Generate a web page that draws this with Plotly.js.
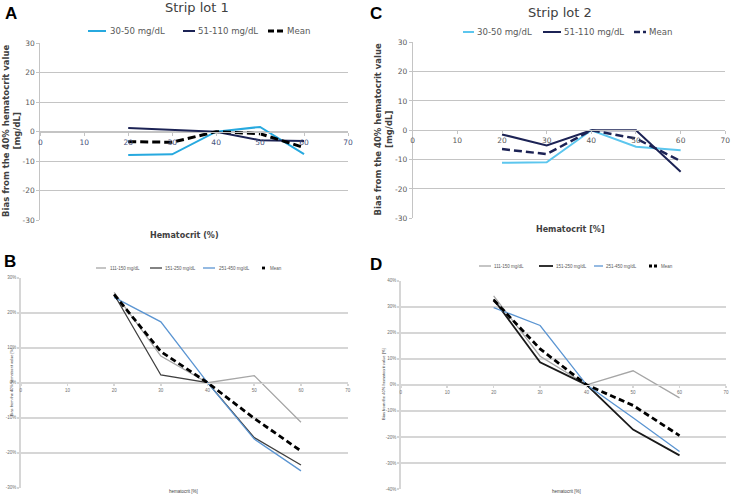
<!DOCTYPE html>
<html>
<head>
<meta charset="utf-8">
<script src="https://cdn.plot.ly/plotly-3.0.1.min.js"></script>
<style>html,body{margin:0;padding:0;background:#fff}#chart{width:732px;height:497px}</style>
</head>
<body>
<div id="chart"></div>
<script>
// ---------------- DATA ----------------
const hematocrit = [20, 30, 40, 50, 60];
const xTickVals = [0, 10, 20, 30, 40, 50, 60, 70];

// Panel A – Strip lot 1 (mg/dL)
const seriesNamesAC = ["30-50 mg/dL", "51-110 mg/dL", "Mean"];
const lot1_30_50  = [-7.9, -7.7, 0, 1.6, -7.6];
const lot1_51_110 = [1.2, 0.7, 0, -2.9, -3.2];
const lot1_mean   = [-3.4, -3.6, 0, -0.7, -5.4];

// Panel C – Strip lot 2 (mg/dL)
const lot2_30_50  = [-11.1, -10.9, 0, -5.6, -6.8];
const lot2_51_110 = [-1.4, -5.2, 0, 0, -14.1];
const lot2_mean   = [-6.4, -8.1, 0, -2.8, -10.5];

// Panel B – Strip lot 1 (%)
const seriesNamesBD = ["111-150 mg/dL", "151-250 mg/dL", "251-450 mg/dL", "Mean"];
const lot1_111_150 = [25.8, 7.6, 0, 2.0, -11.3];
const lot1_151_250 = [25.2, 2.2, 0, -15.7, -23.5];
const lot1_251_450 = [24.4, 17.4, 0, -16.1, -25.2];
const lot1_pct_mean = [25.2, 8.9, 0, -10.2, -19.5];

// Panel D – Strip lot 2 (%)
const lot2_111_150 = [34.2, 11.0, 0, 5.4, -5.0];
const lot2_151_250 = [32.9, 8.7, 0, -17.2, -27.1];
const lot2_251_450 = [29.7, 22.8, 0, -12.6, -25.6];
const lot2_pct_mean = [32.6, 13.8, 0, -7.9, -19.5];

// ---------------- STYLE / LAYOUT ----------------
const W = 732, H = 497;
const px = x => x / W;
const py = y => 1 - y / H;

const panels = [
  { id: "", letter: "A", dom: {x0: 40.3, x1: 348, y0: 43.3, y1: 220}, yr: [-30, 30], suffix: "",
    series: [lot1_30_50, lot1_51_110, lot1_mean], names: seriesNamesAC,
    colors: ["#27a9df", "#1c2355", "#000000"], widths: [2, 2, 3], dashes: ["solid", "solid", "8px,4px"],
    legDash: "6px,3px",
    font: "DejaVu Sans", tickSize: 7.5, tickColor: "#595959", xTickColor: "#45507a",
    gridColor: "#c4c4c4", gridWidth: 1, axisWidth: 1, tickLen: 3,
    title: {text: "Strip lot 1", x: 197, y: 7.5, size: 13},
    letterPos: {x: 3, y: 14},
    ytitle: {text: "<b>Bias from the 40% hematocrit value<br>[mg/dL]</b>", x: 11, y: 131, size: 8.5},
    xtitle: {text: "<b>Hematocrit (%)</b>", x: 184, y: 235, size: 8},
    legend: {y: 31, size: 8.6, items: [[88, 106, 108], [183, 195, 196], [268, 283, 285]]}
  },
  { id: "2", letter: "C", dom: {x0: 412.7, x1: 725.3, y0: 42.3, y1: 218.3}, yr: [-30, 30], suffix: "",
    series: [lot2_30_50, lot2_51_110, lot2_mean], names: seriesNamesAC,
    colors: ["#5cc6ee", "#1c2355", "#1c2355"], widths: [2, 2, 2.5], dashes: ["solid", "solid", "8px,4px"],
    legDash: "6px,3px",
    font: "DejaVu Sans", tickSize: 7.5, tickColor: "#595959", xTickColor: "#595959",
    gridColor: "#c4c4c4", gridWidth: 1, axisWidth: 1, tickLen: 3,
    title: {text: "Strip lot 2", x: 560, y: 13, size: 13},
    letterPos: {x: 368, y: 14},
    ytitle: {text: "<b>Bias from the 40% hematocrit value<br>[mg/dL]</b>", x: 382.5, y: 129, size: 8.5},
    xtitle: {text: "<b>Hematocrit [%]</b>", x: 570, y: 230, size: 8},
    legend: {y: 32, size: 8.6, items: [[463, 474, 475], [543, 561, 562], [634, 646, 647]]}
  },
  { id: "3", letter: "B", dom: {x0: 20.7, x1: 347.7, y0: 277.7, y1: 487.7}, yr: [-30, 30], suffix: "%",
    series: [lot1_111_150, lot1_151_250, lot1_251_450, lot1_pct_mean], names: seriesNamesBD,
    colors: ["#a6a6a6", "#404040", "#5b95d2", "#000000"], widths: [1.3, 1.3, 1.3, 2.8],
    dashes: ["solid", "solid", "solid", "6px,3.5px"], legDash: "3px,2px",
    font: "Liberation Sans", tickSize: 4.5, tickColor: "#6f6f6f", xTickColor: "#6f6f6f",
    gridColor: "#d6d6d6", gridWidth: 1.6, axisWidth: 1.6, tickLen: 2,
    title: null,
    letterPos: {x: 2, y: 261},
    ytitle: {text: "Bias from the 40% hematocrit value [%]", x: 11, y: 382, size: 3.9},
    xtitle: {text: "hematocrit [%]", x: 183, y: 491, size: 4.5},
    legend: {y: 268, size: 4.5, items: [[96, 106, 108], [150, 162, 163], [203, 215, 217], [262, 267, 268]]}
  },
  { id: "4", letter: "D", dom: {x0: 400.7, x1: 726, y0: 280.7, y1: 489}, yr: [-40, 40], suffix: "%",
    series: [lot2_111_150, lot2_151_250, lot2_251_450, lot2_pct_mean], names: seriesNamesBD,
    colors: ["#a6a6a6", "#1a1a1a", "#5b95d2", "#000000"], widths: [1.3, 1.8, 1.3, 2.8],
    dashes: ["solid", "solid", "solid", "6px,3.5px"], legDash: "3px,2px",
    font: "Liberation Sans", tickSize: 4.5, tickColor: "#6f6f6f", xTickColor: "#6f6f6f",
    gridColor: "#d6d6d6", gridWidth: 1.6, axisWidth: 1.6, tickLen: 2,
    title: null,
    letterPos: {x: 368, y: 264},
    ytitle: {text: "Bias from the 40% hematocrit value [%]", x: 383, y: 384, size: 4.1},
    xtitle: {text: "hematocrit [%]", x: 566, y: 491, size: 4.5},
    legend: {y: 266, size: 4.5, items: [[479, 491, 492], [539, 553, 554], [594, 603, 604], [649, 658, 659]]}
  }
];

const traces = [];
const layout = {
  width: W, height: H,
  margin: {l: 0, r: 0, t: 0, b: 0},
  paper_bgcolor: "#ffffff", plot_bgcolor: "#ffffff",
  showlegend: false,
  annotations: [], shapes: []
};

panels.forEach(p => {
  const xa = "xaxis" + p.id, ya = "yaxis" + p.id;
  const xd = [px(p.dom.x0), px(p.dom.x1)];
  const yd = [py(p.dom.y1), py(p.dom.y0)];
  const zeroPos = yd[0] + (yd[1] - yd[0]) * (0 - p.yr[0]) / (p.yr[1] - p.yr[0]);

  p.series.forEach((s, i) => {
    traces.push({
      type: "scatter", mode: "lines",
      x: hematocrit, y: s, name: p.names[i],
      xaxis: "x" + p.id, yaxis: "y" + p.id,
      line: {color: p.colors[i], width: p.widths[i], dash: p.dashes[i]},
      hoverinfo: "x+y+name"
    });
  });

  layout[xa] = {
    domain: xd, range: [0, 70], tickvals: xTickVals, ticktext: xTickVals.map(String),
    anchor: "free", position: zeroPos, showgrid: false, zeroline: false,
    showline: true, linecolor: p.gridColor, linewidth: p.axisWidth,
    ticks: "outside", ticklen: p.tickLen, tickcolor: p.gridColor, tickwidth: p.axisWidth,
    tickfont: {family: p.font, size: p.tickSize, color: p.xTickColor}, automargin: false,
    fixedrange: true
  };
  const yTicks = [];
  for (let v = p.yr[0]; v <= p.yr[1]; v += 10) yTicks.push(v);
  layout[ya] = {
    domain: yd, range: p.yr, tickvals: yTicks, ticktext: yTicks.map(v => v + p.suffix),
    anchor: "x" + p.id, showgrid: true, gridcolor: p.gridColor, gridwidth: p.gridWidth,
    zeroline: false, showline: true, linecolor: p.gridColor, linewidth: p.axisWidth,
    ticks: "outside", ticklen: p.tickLen, tickcolor: p.gridColor, tickwidth: p.axisWidth,
    tickfont: {family: p.font, size: p.tickSize, color: p.tickColor}, automargin: false,
    fixedrange: true
  };

  // panel letter
  layout.annotations.push({
    text: "<b>" + p.letter + "</b>", xref: "paper", yref: "paper",
    x: px(p.letterPos.x), y: py(p.letterPos.y), xanchor: "left", yanchor: "middle",
    showarrow: false, font: {family: "Liberation Sans", size: 17, color: "#000000"}
  });
  if (p.title) {
    layout.annotations.push({
      text: p.title.text, xref: "paper", yref: "paper",
      x: px(p.title.x), y: py(p.title.y), xanchor: "center", yanchor: "middle",
      showarrow: false, font: {family: p.font, size: p.title.size, color: "#404040"}
    });
  }
  layout.annotations.push({
    text: p.ytitle.text, xref: "paper", yref: "paper", textangle: -90,
    x: px(p.ytitle.x), y: py(p.ytitle.y), xanchor: "center", yanchor: "middle",
    showarrow: false, font: {family: p.font, size: p.ytitle.size, color: "#404040"}
  });
  layout.annotations.push({
    text: p.xtitle.text, xref: "paper", yref: "paper",
    x: px(p.xtitle.x), y: py(p.xtitle.y), xanchor: "center", yanchor: "middle",
    showarrow: false, font: {family: p.font, size: p.xtitle.size, color: "#404040"}
  });

  // legend (built from the series names and colours)
  p.legend.items.forEach((it, i) => {
    layout.shapes.push({
      type: "line", xref: "paper", yref: "paper",
      x0: px(it[0]), x1: px(it[1]), y0: py(p.legend.y), y1: py(p.legend.y),
      line: {color: p.colors[i], width: p.widths[i], dash: p.dashes[i] === "solid" ? "solid" : p.legDash}
    });
    layout.annotations.push({
      text: p.names[i], xref: "paper", yref: "paper",
      x: px(it[2]), y: py(p.legend.y), xanchor: "left", yanchor: "middle",
      showarrow: false, font: {family: p.font, size: p.legend.size, color: "#595959"}
    });
  });
});

Plotly.newPlot("chart", traces, layout, {displayModeBar: false, staticPlot: true});
</script>
</body>
</html>
